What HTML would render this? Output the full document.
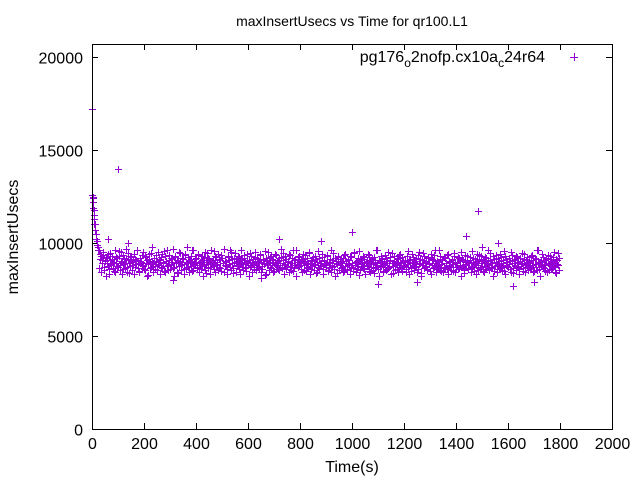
<!DOCTYPE html>
<html><head><meta charset="utf-8"><style>
html,body{margin:0;padding:0;background:#fff;}
svg text{font-family:"Liberation Sans",Arial,sans-serif;fill:#000;}
</style></head><body>
<svg id="chart" width="640" height="480" viewBox="0 0 640 480" xmlns="http://www.w3.org/2000/svg">
<rect width="640" height="480" fill="#fff"/>
<text x="352" y="26" font-size="14" text-anchor="middle">maxInsertUsecs vs Time for qr100.L1</text>
<text transform="translate(18,237) rotate(-90)" font-size="16" text-anchor="middle">maxInsertUsecs</text>
<text x="352" y="472" font-size="16" text-anchor="middle">Time(s)</text>
<g id="axes"></g>
<g id="marks"></g>
<rect x="92.5" y="44.5" width="520" height="385" fill="none" stroke="#000" stroke-width="1"/>
<text x="545" y="62" font-size="16" text-anchor="end">pg176<tspan dy="5" font-size="12">o</tspan><tspan dy="-5">2nofp.cx10a</tspan><tspan dy="5" font-size="12">c</tspan><tspan dy="-5">24r64</tspan></text>
<path d="M570,57.5h8M574.5,53v8" stroke="#9400d3" stroke-width="1"/>
</svg>
<script>
const xTicks=[0,200,400,600,800,1000,1200,1400,1600,1800,2000];
const yTicks=[0,5000,10000,15000,20000];
const sampleInterval=4;
const mainValues=[
12600,12400,11800,11000,10500,10100,9800,9600,9400,9300,9100,9500,8700,9200,8900,9400,8600,9100,8800,9300,
9000,8500,9600,8900,9200,8700,9300,8800,9500,9000,8600,9200,8900,9700,8700,9100,8400,9300,9000,8800,
9400,8700,9100,9600,8900,8500,9200,9000,8800,9500,8600,9300,8900,9100,8300,9400,9000,8700,9800,8900,
9200,8600,9000,9500,8800,9100,8700,9400,9000,8500,9300,8900,9600,8800,9100,8600,9200,9000,9700,8700,
9300,8900,9100,8400,9500,9000,8800,9200,8600,9400,9000,9800,8700,9100,8900,9300,8500,9600,9000,8800,
9200,8700,9400,8900,9000,8600,9300,9100,8800,9500,8400,9000,9200,8700,9600,8900,9100,8600,9300,8800,
9000,9400,8700,9100,8500,9200,8900,9700,8800,9000,8600,9300,9100,8700,9500,8900,8400,9200,9000,8800,
9300,8600,9100,9600,8900,8700,9200,9000,8500,9400,8800,9100,8700,9300,8900,9000,8600,9500,8800,9200,
8700,9000,9400,8600,9100,8900,8300,9200,8800,9500,9000,8700,9300,8900,9100,8500,9400,8800,9000,8600,
9200,8900,9700,8700,9100,8800,9300,8600,9000,9400,8700,8900,9200,8500,9100,8800,9600,9000,8700,9300,
8900,8600,9100,9400,8800,9000,8500,9200,8700,9500,8900,8600,9100,8800,9300,8400,9000,8700,9200,8900,
8800,9400,8600,9100,8900,8700,9300,8500,9000,8800,9600,8700,9100,8600,9200,8900,8400,9300,8800,9000,
8700,9200,8500,9400,8900,8600,9100,8800,9300,8700,8900,8500,9500,8800,9000,8600,9200,8300,9100,8700,
8900,9300,8600,9000,8800,9400,8500,9100,8700,9200,8900,8400,9000,8800,9600,8600,9100,8700,9300,8900,
8500,9000,8800,9200,8600,9500,8700,9100,8900,8400,9300,8800,9000,8600,9200,8700,9400,8900,8500,9100,
8800,9000,8600,9300,8700,9100,8900,8500,9400,8800,9000,8700,9200,8600,9500,8900,8400,9100,8800,9300,
8700,9000,8600,9200,8900,8500,9400,8800,9100,8700,9600,8900,8600,9000,8800,9300,8500,9100,8700,9200,
8900,8600,9400,8800,9000,8700,9100,8500,9300,8900,8700,9000,8600,9200,8800,9500,8700,9100,8400,9000,
8800,9300,8600,9100,8900,8700,9200,8500,9000,8800,9400,8700,9100,8600,9300,8900,8500,9000,8700,9200,
8800,9600,8600,9100,8900,8700,9300,8500,9000,8800,9200,8600,9400,8900,8700,9100,8500,9300,8800,9000,
8700,9200,8600,9500,8900,8400,9100,8800,9300,8700,9000,8600,9200,8900,8500,9400,8800,9100,8700,9000,
8900,8600,9300,8800,9100,8500,9200,8700,9600,8900,8600,9000,8800,9400,8700,9100,8500,9200,8900,8800,
9300,8600,9000,8700,9500,8900,8400,9100,8800,9200
];
const secondValues=[
11900,11300,10700,10200,9900,9650,8650,9150,8450,8950,9350,8550,9050,8250,9250,8750,8350,9450,8850,9150,
8650,8950,8450,9250,8750,9550,8550,9050,8350,9350,8850,8650,9150,8450,9450,8950,8750,9250,8550,9050,
8350,9150,8850,9650,8650,8450,9050,8950,9350,8750,8550,9250,8250,8850,9150,8650,9450,8950,8450,9050,
8750,9350,8550,8850,9150,8350,9250,8650,8950,9550,8450,9050,8750,8550,9350,8850,9150,8650,8250,9250,
8950,8450,9050,8750,9450,8550,8850,9150,8350,9350,8650,8950,9250,8450,9050,8750,9650,8550,8850,9150,
8650,9350,8450,8950,9050,8750,8250,9250,8550,8850,9450,8650,9150,8350,8950,9050,8750,9550,8450,9250,
8850,8550,9150,8650,9350,8950,8450,9050,8750,8350,9250,8850,9650,8550,9150,8650,8950,9450,8450,9050,
8750,9250,8350,8850,9150,8550,9350,8650,8950,9050,8250,9450,8750,8450,9150,8850,9250,8550,8950,9050,
8650,9350,8450,8750,9150,8850,9550,8350,9050,8950,8550,9250,8650,9150,8450,8850,9350,8750,9050,8550,
8950,9250,8650,9450,8350,8850,9150,8750,9050,8450,9350,8550,8950,9650,8650,9150,8250,8850,9250,8750,
9050,8450,9150,8550,9350,8850,8650,8950,9450,8350,9050,8750,9250,8550,8850,9150,8450,9550,8650,8950,
8750,9250,8350,9050,8850,9350,8550,8650,9150,8450,8950,9450,8750,8250,9050,8850,9250,8550,9150,8650,
8950,8450,9350,8750,9050,8550,9150,8850,8350,9250,8650,9450,8950,8450,9050,8750,9550,8550,8850,9150,
8650,9250,8350,8950,9050,8750,9350,8450,8850,9150,8550,9250,8650,9650,8950,8250,9050,8750,9150,8450,
8850,9350,8550,9050,8650,8950,9250,8350,9450,8750,9050,8550,8850,9150,8450,9350,8950,8650,9250,8750,
9050,8450,8850,9550,8350,9150,8650,8950,9250,8550,9050,8750,8450,9350,8850,9150,8250,8950,9450,8650,
8750,9050,8550,9250,8850,8350,9150,8650,9350,8950,8450,9050,8750,9650,8550,8850,9150,8450,9250,8650,
8950,9350,8350,9050,8750,8550,9150,8850,9450,8450,8950,9250,8650,9050,8250,9150,8750,8550,9350,8850,
9050,8650,8950,9250,8450,9550,8750,8850,9150,8350,9050,8550,9350,8650,8950,9150,8450,9250,8750,8850,
9050,8550,9450,8650,8950,8250,9150,8750,9350,8450,8850,9050,8650,9250,8550,8950,9550,8350,9150,8750,
8850,9050,8450,9350,8650,8950,9150,8550,9250,8750,8350,9050,8850,9450,8650,9150,8450,8950,9250,8550,
9050,8750,8650,9350,8450,8850,9150,8550,9650,8950,8250,9050,8750,9250,8650,8850,9150,8450,9350,8550,
8950,9050,8650,9250,8750,8450,9150,8850,9450,8550
];
const outlierTimes=[0,2,4,6,8,100,1000,1440,1485,720,880,1500,1620,1700,60,310,650,140,1100,1250,1560];
const outlierValues=[17200,12500,12200,11500,11000,14000,10600,10400,11700,10200,10100,9800,7700,7900,10200,8000,8100,10000,7800,7900,10000];

const X0=92,X1=612,Y0=429,Y1=57;
function xScale(t){return X0+(t-0)/(2000-0)*(X1-X0);}
function yScale(v){return Y0-(v-0)/(20000-0)*(Y0-Y1);}
const NS="http://www.w3.org/2000/svg";
const axes=document.getElementById('axes');
const marks=document.getElementById('marks');
xTicks.forEach(function(t){
  const x=Math.round(xScale(t))+0.5;
  const p=document.createElementNS(NS,'path');
  p.setAttribute('d','M'+x+',429v-6M'+x+',44v6');
  p.setAttribute('stroke','#000');
  
  
  axes.appendChild(p);
  const tx=document.createElementNS(NS,'text');
  tx.setAttribute('x',x);tx.setAttribute('y',449);
  tx.setAttribute('font-size','16');tx.setAttribute('text-anchor','middle');
  tx.textContent=t;
  
  
  axes.appendChild(tx);
});
yTicks.forEach(function(v){
  const y=Math.round(yScale(v))+0.5;
  const p=document.createElementNS(NS,'path');
  p.setAttribute('d','M92,'+y+'h6M612,'+y+'h-6');
  p.setAttribute('stroke','#000');
  
  
  axes.appendChild(p);
  const tx=document.createElementNS(NS,'text');
  tx.setAttribute('x',83);tx.setAttribute('y',y+6);
  tx.setAttribute('font-size','16');tx.setAttribute('text-anchor','end');
  tx.textContent=v;
  
  
  axes.appendChild(tx);
});
let d='';
function addPoint(t,v){
  const x=Math.round(xScale(t))+0.5,y=Math.round(yScale(v))+0.5;
  d+='M'+(x-3.5)+','+y+'h7M'+x+','+(y-3.5)+'v7';
}
mainValues.forEach(function(v,i){addPoint(i*sampleInterval,v);});
secondValues.forEach(function(v,i){addPoint(i*sampleInterval+2,v);});
outlierTimes.forEach(function(t,i){addPoint(t,outlierValues[i]);});
const path=document.createElementNS(NS,'path');
path.setAttribute('d',d);
path.setAttribute('stroke','#9400d3');
path.setAttribute('stroke-width','1');
path.setAttribute('fill','none');


marks.appendChild(path);
</script>
</body></html>
